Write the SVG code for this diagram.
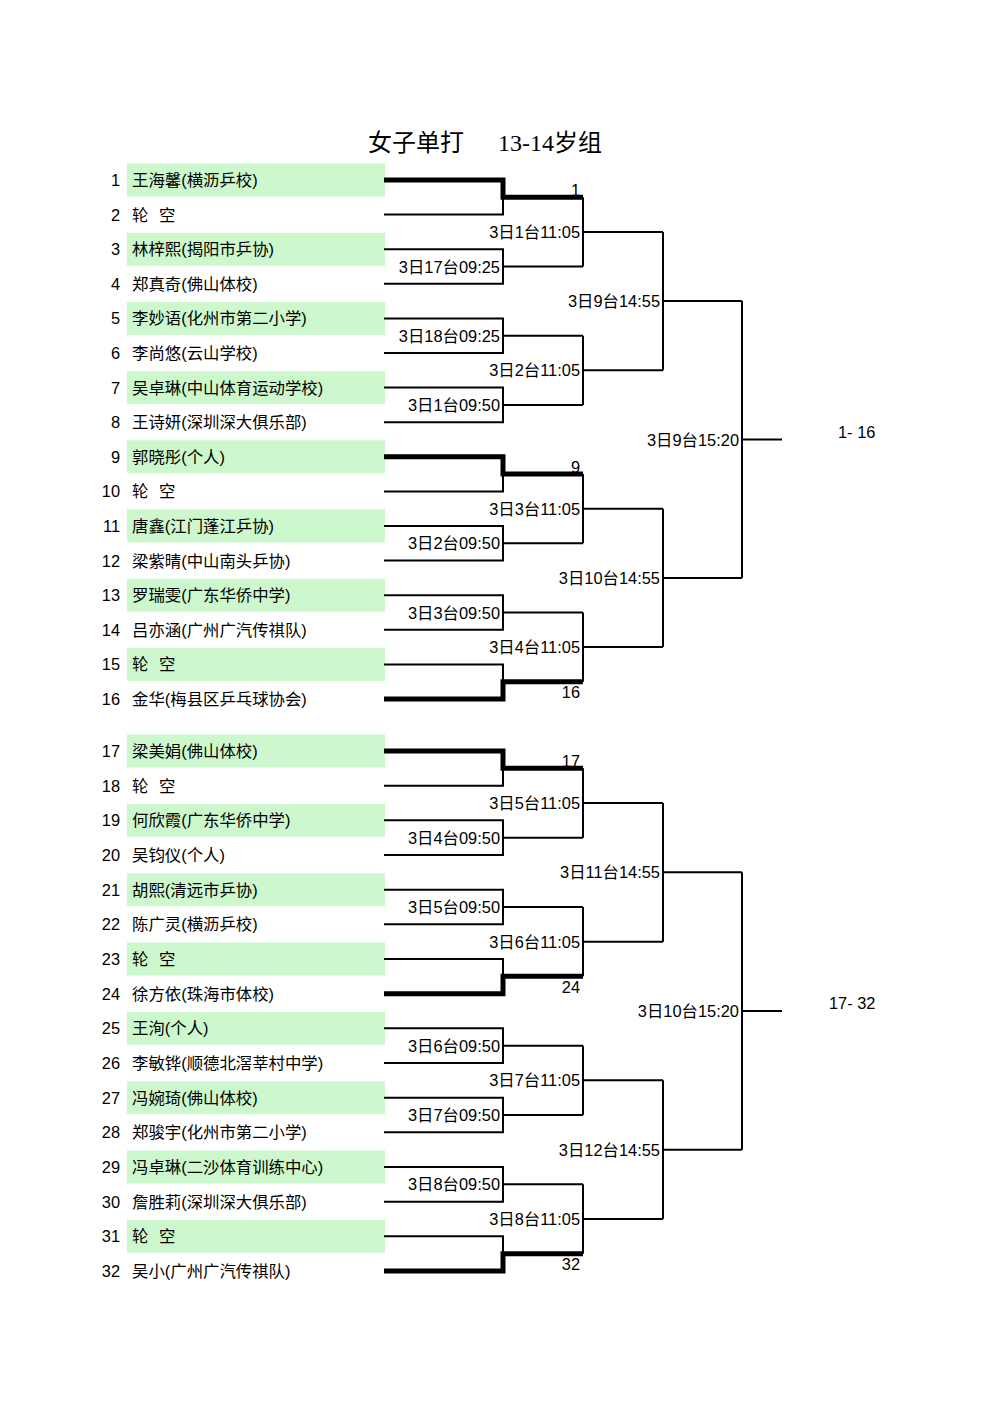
<svg xmlns="http://www.w3.org/2000/svg" width="1000" height="1414" viewBox="0 0 1000 1414">
<style>
text{font-family:"Liberation Sans","Noto Sans CJK SC",sans-serif;font-size:16.4px;fill:#000}
.t{font-family:"Liberation Serif","Noto Sans CJK SC",serif;font-size:24px}
.no{text-anchor:end}
.ml{text-anchor:end}
.g{fill:#cdf8cd}
.w{fill:none;stroke:#000;stroke-width:2}
.k{fill:none;stroke:#000;stroke-width:5}
.bl{word-spacing:6px}
</style>
<rect width="1000" height="1414" fill="#fff"/>
<g id="title"><text class="t" x="368" y="151">女子单打</text><text class="t" x="498" y="151">13-14岁组</text></g>
<g id="players">
<rect class="g" x="127" y="163.5" width="258" height="33"/>
<rect class="g" x="127" y="232.7" width="258" height="33"/>
<rect class="g" x="127" y="301.9" width="258" height="33"/>
<rect class="g" x="127" y="371.1" width="258" height="33"/>
<rect class="g" x="127" y="440.3" width="258" height="33"/>
<rect class="g" x="127" y="509.5" width="258" height="33"/>
<rect class="g" x="127" y="578.7" width="258" height="33"/>
<rect class="g" x="127" y="647.9" width="258" height="33"/>
<rect class="g" x="127" y="734.5" width="258" height="33"/>
<rect class="g" x="127" y="803.8" width="258" height="33"/>
<rect class="g" x="127" y="873.2" width="258" height="33"/>
<rect class="g" x="127" y="942.5" width="258" height="33"/>
<rect class="g" x="127" y="1011.8" width="258" height="33"/>
<rect class="g" x="127" y="1081.2" width="258" height="33"/>
<rect class="g" x="127" y="1150.5" width="258" height="33"/>
<rect class="g" x="127" y="1219.8" width="258" height="33"/>
<g id="p1"><text class="no" x="120" y="186">1</text><text x="132" y="186">王海馨(横沥乒校)</text></g>
<g id="p2"><text class="no" x="120" y="220.6">2</text><text class="bl" x="132" y="220.6">轮 空</text></g>
<g id="p3"><text class="no" x="120" y="255.2">3</text><text x="132" y="255.2">林梓熙(揭阳市乒协)</text></g>
<g id="p4"><text class="no" x="120" y="289.8">4</text><text x="132" y="289.8">郑真奇(佛山体校)</text></g>
<g id="p5"><text class="no" x="120" y="324.4">5</text><text x="132" y="324.4">李妙语(化州市第二小学)</text></g>
<g id="p6"><text class="no" x="120" y="359">6</text><text x="132" y="359">李尚悠(云山学校)</text></g>
<g id="p7"><text class="no" x="120" y="393.6">7</text><text x="132" y="393.6">吴卓琳(中山体育运动学校)</text></g>
<g id="p8"><text class="no" x="120" y="428.2">8</text><text x="132" y="428.2">王诗妍(深圳深大俱乐部)</text></g>
<g id="p9"><text class="no" x="120" y="462.8">9</text><text x="132" y="462.8">郭晓彤(个人)</text></g>
<g id="p10"><text class="no" x="120" y="497.4">10</text><text class="bl" x="132" y="497.4">轮 空</text></g>
<g id="p11"><text class="no" x="120" y="532">11</text><text x="132" y="532">唐鑫(江门蓬江乒协)</text></g>
<g id="p12"><text class="no" x="120" y="566.6">12</text><text x="132" y="566.6">梁紫晴(中山南头乒协)</text></g>
<g id="p13"><text class="no" x="120" y="601.2">13</text><text x="132" y="601.2">罗瑞雯(广东华侨中学)</text></g>
<g id="p14"><text class="no" x="120" y="635.8">14</text><text x="132" y="635.8">吕亦涵(广州广汽传祺队)</text></g>
<g id="p15"><text class="no" x="120" y="670.4">15</text><text class="bl" x="132" y="670.4">轮 空</text></g>
<g id="p16"><text class="no" x="120" y="705">16</text><text x="132" y="705">金华(梅县区乒乓球协会)</text></g>
<g id="p17"><text class="no" x="120" y="757">17</text><text x="132" y="757">梁美娟(佛山体校)</text></g>
<g id="p18"><text class="no" x="120" y="791.7">18</text><text class="bl" x="132" y="791.7">轮 空</text></g>
<g id="p19"><text class="no" x="120" y="826.3">19</text><text x="132" y="826.3">何欣霞(广东华侨中学)</text></g>
<g id="p20"><text class="no" x="120" y="861">20</text><text x="132" y="861">吴钧仪(个人)</text></g>
<g id="p21"><text class="no" x="120" y="895.7">21</text><text x="132" y="895.7">胡熙(清远市乒协)</text></g>
<g id="p22"><text class="no" x="120" y="930.3">22</text><text x="132" y="930.3">陈广灵(横沥乒校)</text></g>
<g id="p23"><text class="no" x="120" y="965">23</text><text class="bl" x="132" y="965">轮 空</text></g>
<g id="p24"><text class="no" x="120" y="999.7">24</text><text x="132" y="999.7">徐方依(珠海市体校)</text></g>
<g id="p25"><text class="no" x="120" y="1034.3">25</text><text x="132" y="1034.3">王洵(个人)</text></g>
<g id="p26"><text class="no" x="120" y="1069">26</text><text x="132" y="1069">李敏铧(顺德北滘莘村中学)</text></g>
<g id="p27"><text class="no" x="120" y="1103.7">27</text><text x="132" y="1103.7">冯婉琦(佛山体校)</text></g>
<g id="p28"><text class="no" x="120" y="1138.3">28</text><text x="132" y="1138.3">郑骏宇(化州市第二小学)</text></g>
<g id="p29"><text class="no" x="120" y="1173">29</text><text x="132" y="1173">冯卓琳(二沙体育训练中心)</text></g>
<g id="p30"><text class="no" x="120" y="1207.7">30</text><text x="132" y="1207.7">詹胜莉(深圳深大俱乐部)</text></g>
<g id="p31"><text class="no" x="120" y="1242.3">31</text><text class="bl" x="132" y="1242.3">轮 空</text></g>
<g id="p32"><text class="no" x="120" y="1277">32</text><text x="132" y="1277">吴小(广州广汽传祺队)</text></g>
</g>
<g id="connectors">
<path class="w" d="M384 214.6H503V197.3"/>
<path class="k" d="M384 180H503V197.3H583"/>
<path class="w" d="M384 249.2H503V283.8H384M503 266.5H583"/>
<path class="w" d="M384 318.4H503V353H384M503 335.7H583"/>
<path class="w" d="M384 387.6H503V422.2H384M503 404.9H583"/>
<path class="w" d="M384 491.4H503V474.1"/>
<path class="k" d="M384 456.8H503V474.1H583"/>
<path class="w" d="M384 526H503V560.6H384M503 543.3H583"/>
<path class="w" d="M384 595.2H503V629.8H384M503 612.5H583"/>
<path class="w" d="M384 664.4H503V681.7"/>
<path class="k" d="M384 699H503V681.7H583"/>
<path class="w" d="M583 197.3V266.5M583 231.9H663"/>
<path class="w" d="M583 335.7V404.9M583 370.3H663"/>
<path class="w" d="M583 474.1V543.3M583 508.7H663"/>
<path class="w" d="M583 612.5V681.7M583 647.1H663"/>
<path class="w" d="M663 231.9V370.3M663 301.1H742"/>
<path class="w" d="M663 508.7V647.1M663 577.9H742"/>
<path class="w" d="M742 301.1V577.9M742 439.5H782"/>
<path class="w" d="M384 785.7H503V768.3"/>
<path class="k" d="M384 751H503V768.3H583"/>
<path class="w" d="M384 820.3H503V855H384M503 837.7H583"/>
<path class="w" d="M384 889.7H503V924.3H384M503 907H583"/>
<path class="w" d="M384 959H503V976.3"/>
<path class="k" d="M384 993.7H503V976.3H583"/>
<path class="w" d="M384 1028.3H503V1063H384M503 1045.7H583"/>
<path class="w" d="M384 1097.7H503V1132.3H384M503 1115H583"/>
<path class="w" d="M384 1167H503V1201.7H384M503 1184.3H583"/>
<path class="w" d="M384 1236.3H503V1253.7"/>
<path class="k" d="M384 1271H503V1253.7H583"/>
<path class="w" d="M583 768.3V837.7M583 803H663"/>
<path class="w" d="M583 907V976.3M583 941.7H663"/>
<path class="w" d="M583 1045.7V1115M583 1080.3H663"/>
<path class="w" d="M583 1184.3V1253.7M583 1219H663"/>
<path class="w" d="M663 803V941.7M663 872.3H742"/>
<path class="w" d="M663 1080.3V1219M663 1149.7H742"/>
<path class="w" d="M742 872.3V1149.7M742 1011H782"/>
</g>
<g id="labels">
<text class="ml" x="580" y="196">1</text>
<text class="ml" x="500" y="272.5">3日17台09:25</text>
<text class="ml" x="500" y="341.7">3日18台09:25</text>
<text class="ml" x="500" y="410.9">3日1台09:50</text>
<text class="ml" x="580" y="473">9</text>
<text class="ml" x="500" y="549.3">3日2台09:50</text>
<text class="ml" x="500" y="618.5">3日3台09:50</text>
<text class="ml" x="580" y="698">16</text>
<text class="ml" x="580" y="237.9">3日1台11:05</text>
<text class="ml" x="580" y="376.3">3日2台11:05</text>
<text class="ml" x="580" y="514.7">3日3台11:05</text>
<text class="ml" x="580" y="653.1">3日4台11:05</text>
<text class="ml" x="660" y="307.1">3日9台14:55</text>
<text class="ml" x="660" y="583.9">3日10台14:55</text>
<text class="ml" x="739" y="445.5">3日9台15:20</text>
<text x="838" y="438">1- 16</text>
<text class="ml" x="580" y="767">17</text>
<text class="ml" x="500" y="843.7">3日4台09:50</text>
<text class="ml" x="500" y="913">3日5台09:50</text>
<text class="ml" x="580" y="993">24</text>
<text class="ml" x="500" y="1051.7">3日6台09:50</text>
<text class="ml" x="500" y="1121">3日7台09:50</text>
<text class="ml" x="500" y="1190.3">3日8台09:50</text>
<text class="ml" x="580" y="1270">32</text>
<text class="ml" x="580" y="809">3日5台11:05</text>
<text class="ml" x="580" y="947.7">3日6台11:05</text>
<text class="ml" x="580" y="1086.3">3日7台11:05</text>
<text class="ml" x="580" y="1225">3日8台11:05</text>
<text class="ml" x="660" y="878.3">3日11台14:55</text>
<text class="ml" x="660" y="1155.7">3日12台14:55</text>
<text class="ml" x="739" y="1017">3日10台15:20</text>
<text x="829" y="1009">17- 32</text>
</g>
</svg>
